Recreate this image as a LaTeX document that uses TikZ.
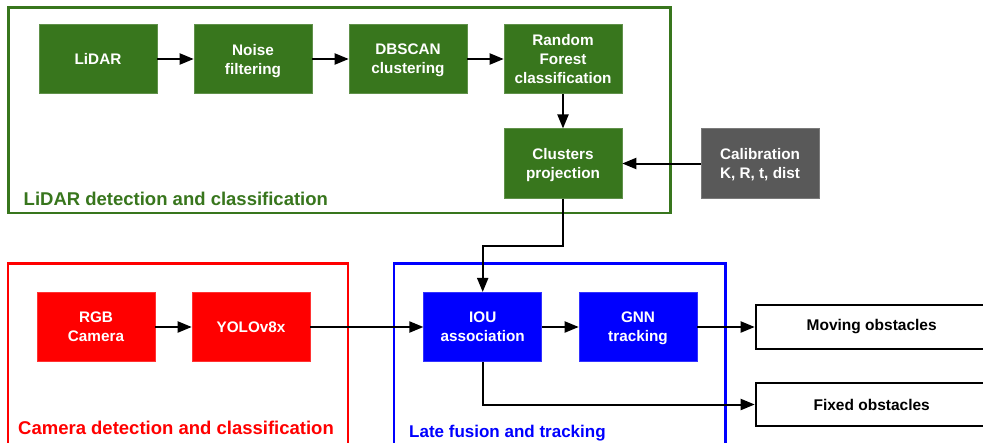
\documentclass[tikz,border=0pt]{standalone}
\usepackage{fontspec}
\setmainfont{Liberation Sans}
\usetikzlibrary{arrows.meta}
\definecolor{lgreen}{HTML}{38761D}
\definecolor{cred}{HTML}{FF0000}
\definecolor{fblue}{HTML}{0000FF}
\definecolor{calgray}{HTML}{595959}
\tikzset{
  stepbox/.style={minimum width=118pt, minimum height=69.5pt, inner sep=0pt, align=center,
    text depth=0pt, text=white, font=\bfseries\fontsize{15.3}{19}\selectfont},
  greenbox/.style={stepbox, fill=lgreen, draw=lgreen!80, line width=0.6pt},
  redbox/.style={stepbox, fill=cred, draw=cred!80, line width=0.6pt},
  bluebox/.style={stepbox, fill=fblue, draw=fblue!80, line width=0.6pt},
  graybox/.style={stepbox, fill=calgray, draw=calgray!80, line width=0.6pt},
  outbox/.style={draw, line width=2pt, minimum width=232pt, minimum height=43.5pt, inner sep=0pt,
    align=center, font=\bfseries\fontsize{15.5}{18}\selectfont},
  frame/.style={line width=2.8pt},
  grouplabel/.style={anchor=base west, inner sep=0pt, font=\bfseries\fontsize{18.5}{22}\selectfont},
  flow/.style={line width=2pt, -{Triangle[length=14pt, width=11pt]}},
}
\begin{document}
\begin{tikzpicture}[x=1pt, y=-1pt]
\clip (0,0) rectangle (983,442);
\fill[white] (0,0) rectangle (983,442);

% group frames
\draw[frame, draw=lgreen] (8.5,7.5) rectangle (670.5,213);
\draw[frame, draw=cred] (8,263.5) rectangle (348,460);
\draw[frame, draw=fblue] (394,263.5) rectangle (725.7,460);

% LiDAR branch
\node[greenbox] (lidar) at (98,59) {LiDAR};
\node[greenbox] (noise) at (253,59) {Noise\\filtering};
\node[greenbox] (dbscan) at (408,59) {DBSCAN\\clustering};
\node[greenbox] (rf) at (563,59) {Random\\Forest\\classification};
\node[greenbox] (proj) at (563,163.5) {Clusters\\projection};
\node[graybox] (calib) at (760,163.5) {Calibration\\K, R, t, dist};

% camera branch
\node[redbox] (rgb) at (96,327) {RGB\\Camera};
\node[redbox] (yolo) at (251,327) {YOLOv8x};

% fusion and tracking
\node[bluebox] (iou) at (482.7,327) {IOU\\association};
\node[bluebox] (gnn) at (638,327) {GNN\\tracking};

% outputs
\node[outbox] (moving) at (871.7,327) {Moving obstacles};
\node[outbox] (fixed) at (871.7,404.5) {Fixed obstacles};

% group labels
\node[grouplabel, text=lgreen] (lablidar) at (23.5,205.5) {LiDAR detection and classification};
\node[grouplabel, text=cred] (labcam) at (18,434.3) {Camera detection and classification};
\node[grouplabel, text=fblue, font=\bfseries\fontsize{17}{20}\selectfont] (labfus) at (409,437) {Late fusion and tracking};

% connectors
\draw[flow] (lidar) -- (noise);
\draw[flow] (noise) -- (dbscan);
\draw[flow] (dbscan) -- (rf);
\draw[flow] (rf) -- (proj);
\draw[flow] (calib) -- (proj);
\draw[flow] (rgb) -- (yolo);
\draw[flow] (proj.south) -- ++(0,47) -| (iou.north);
\draw[flow] (yolo) -- (iou);
\draw[flow] (iou) -- (gnn);
\draw[flow] (gnn) -- (moving.west);
\draw[flow] (iou.south) |- (fixed.west);
\end{tikzpicture}
\end{document}
